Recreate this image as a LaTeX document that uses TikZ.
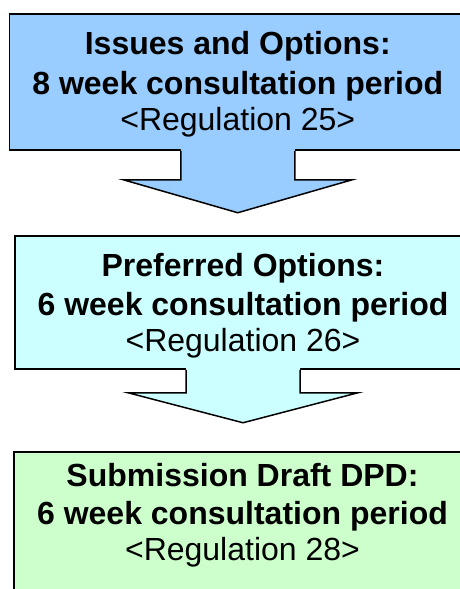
\documentclass[tikz,border=0pt]{standalone}
\usepackage{fontspec}
\setmainfont{Liberation Sans}
\usetikzlibrary{calc}
\definecolor{boxblue}{HTML}{99CCFF}
\definecolor{boxcyan}{HTML}{CCFFFF}
\definecolor{boxgreen}{HTML}{CCFFCC}
\tikzset{
  stagebox/.style={draw=black, line width=1.5pt, rectangle, inner sep=0pt},
  boldline/.style={anchor=base, inner sep=0pt, font=\fontsize{32}{38}\selectfont\bfseries},
  regline/.style={anchor=base, inner sep=0pt, font=\fontsize{32}{38}\selectfont},
  arrowline/.style={draw=black, line width=1.5pt, line join=miter},
}
\begin{document}
\begin{tikzpicture}[x=1pt,y=-1pt]
\useasboundingbox (0,0) rectangle (460,589);
\clip (0,0) rectangle (460,589);

% Box 1
\node[stagebox, fill=boxblue, minimum width=456.5pt, minimum height=136pt] (b1) at (237.75,82) {};
\node[boldline] (t1a) at (237.75,54.5) {Issues and Options:};
\node[boldline] (t1b) at (237.75,94.5) {8 week consultation period};
\node[regline]  (t1c) at (237.75,130.8) {<Regulation 25>};

% Arrow 1
\fill[boxblue] ($(b1.south)+(-57,-2)$) -- ($(b1.south)+(-57,29)$) -- ($(b1.south)+(-114.5,29)$)
  -- ($(b1.south)+(0,62)$) -- ($(b1.south)+(114.5,29)$) -- ($(b1.south)+(57,29)$) -- ($(b1.south)+(57,-2)$) -- cycle;
\draw[arrowline] ($(b1.south)+(-57,0)$) -- ($(b1.south)+(-57,29)$) -- ($(b1.south)+(-114.5,29)$)
  -- ($(b1.south)+(0,62)$) -- ($(b1.south)+(114.5,29)$) -- ($(b1.south)+(57,29)$) -- ($(b1.south)+(57,0)$);

% Box 2
\node[stagebox, fill=boxcyan, minimum width=456pt, minimum height=133pt] (b2) at (243,302.5) {};
\node[boldline] (t2a) at (243,276) {Preferred Options:};
\node[boldline] (t2b) at (243,315.7) {6 week consultation period};
\node[regline]  (t2c) at (243,351) {<Regulation 26>};

% Arrow 2
\fill[boxcyan] ($(b2.south)+(-57,-2)$) -- ($(b2.south)+(-57,23)$) -- ($(b2.south)+(-115,23)$)
  -- ($(b2.south)+(0,53)$) -- ($(b2.south)+(115,23)$) -- ($(b2.south)+(57,23)$) -- ($(b2.south)+(57,-2)$) -- cycle;
\draw[arrowline] ($(b2.south)+(-57,0)$) -- ($(b2.south)+(-57,23)$) -- ($(b2.south)+(-115,23)$)
  -- ($(b2.south)+(0,53)$) -- ($(b2.south)+(115,23)$) -- ($(b2.south)+(57,23)$) -- ($(b2.south)+(57,0)$);

% Box 3
\node[stagebox, fill=boxgreen, minimum width=457pt, minimum height=168pt] (b3) at (242.5,536) {};
\node[boldline] (t3a) at (242.5,486.7) {Submission Draft DPD:};
\node[boldline] (t3b) at (242.5,524.3) {6 week consultation period};
\node[regline]  (t3c) at (242.5,560.7) {<Regulation 28>};
\end{tikzpicture}
\end{document}
